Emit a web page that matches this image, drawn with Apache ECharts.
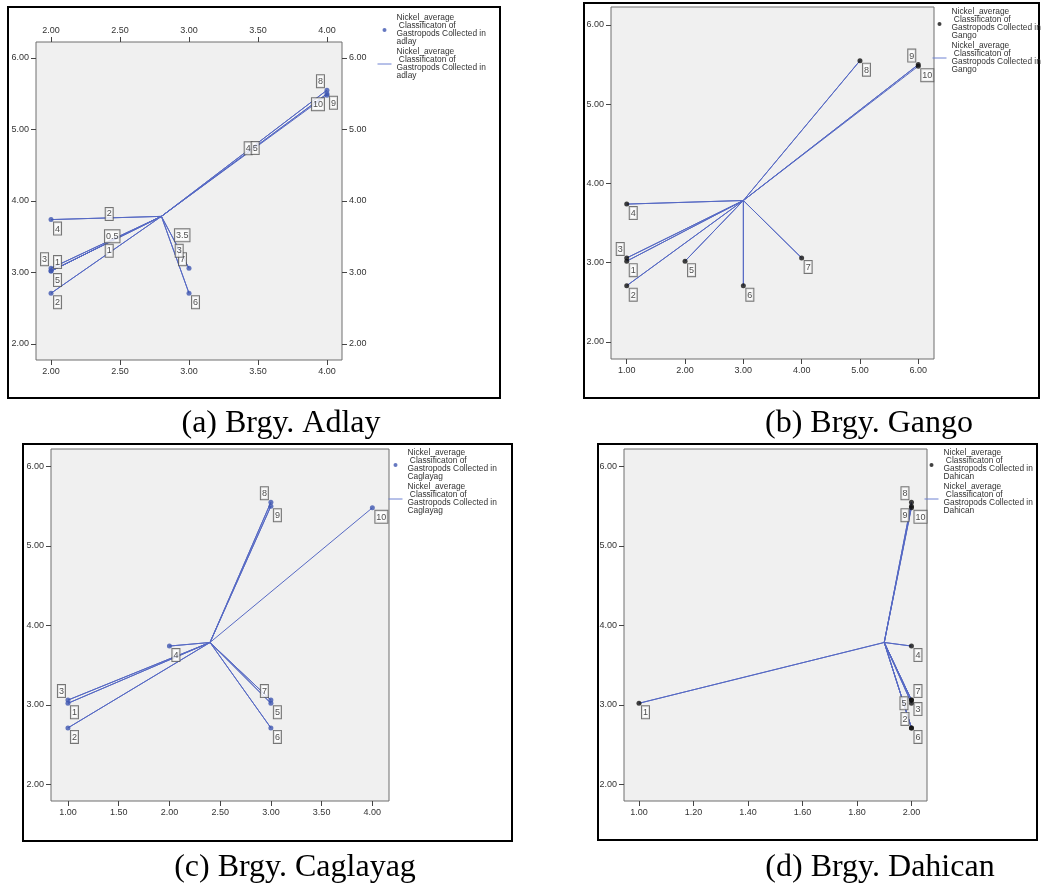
<!DOCTYPE html>
<html>
<head>
<meta charset="utf-8">
<script src="https://cdn.jsdelivr.net/npm/echarts@6/dist/echarts.min.js"></script>
<style>
    html, body { margin: 0; padding: 0; background: #fff; }
    #chart { width: 1043px; height: 884px; }
</style>
</head>
<body>
<div id="chart"></div>
<script>
// sample numbers and their Nickel average (same in all four barangays)
var sampleIds = ['1', '2', '3', '4', '5', '6', '7', '8', '9', '10'];
var nickelAverage = [3.02, 2.71, 3.06, 3.74, 3.02, 2.71, 3.06, 5.55, 5.50, 5.48];

// classification of gastropods per sample
var adlayClass    = [2, 2, 2, 2, 2, 3, 3, 4, 4, 4];
var gangoClass    = [1, 1, 1, 1, 2, 3, 4, 5, 6, 6];
var caglayagClass = [1, 1, 1, 2, 3, 3, 3, 3, 3, 4];
var dahicanClass  = [1, 2, 2, 2, 2, 2, 2, 2, 2, 2];

// stray labels sitting on the spokes of the Adlay chart, and the sample each spoke goes to
var adlaySpokeText = ['2', '0.5', '1', '3.5', '3', '4', '5'];
var adlaySpokeTo   = [4, 3, 2, 7, 6, 8, 9];

// tick labels
var yTicks        = [2, 3, 4, 5, 6];
var adlayTicks    = [2, 2.5, 3, 3.5, 4];
var gangoTicks    = [1, 2, 3, 4, 5, 6];
var caglayagTicks = [1, 1.5, 2, 2.5, 3, 3.5, 4];
var dahicanTicks  = [1, 1.2, 1.4, 1.6, 1.8, 2];

var legendPlaces = ['adlay', 'Gango', 'Caglayag', 'Dahican'];
var captions = ['(a) Brgy. Adlay', '(b) Brgy. Gango', '(c) Brgy. Caglayag', '(d) Brgy. Dahican'];

// where each point label sits (tl = top left, br = bottom right ...)
var labelPlace = {
    tl: { align: 'right', verticalAlign: 'bottom', offset: [-3, -3] },
    tr: { align: 'left', verticalAlign: 'bottom', offset: [3, -3] },
    br: { align: 'left', verticalAlign: 'top', offset: [3, 3] },
    bl: { align: 'right', verticalAlign: 'top', offset: [-3, 3] },
    l:  { align: 'right', verticalAlign: 'middle', offset: [-4, 0] }
};

var panels = [
    { cls: adlayClass, ticks: adlayTicks, xr: [1.891, 4.109],
      grid: { left: 36, top: 42, width: 306, height: 318 },
      box: [8, 7, 492, 391], legend: { left: 377, top: 14 }, dot: '#3f56b0', cap: [281, 424],
      places: ['tr', 'br', 'tl', 'br', 'br', 'br', 'tl', 'tl', 'br', 'bl'], mirror: true },
    { cls: gangoClass, ticks: gangoTicks, xr: [0.73, 6.27],
      grid: { left: 611, top: 7, width: 323, height: 352 },
      box: [584, 3, 455, 395], legend: { left: 932, top: 8 }, dot: '#111', cap: [869, 424],
      places: ['br', 'br', 'tl', 'br', 'br', 'br', 'br', 'br', 'tl', 'br'] },
    { cls: caglayagClass, ticks: caglayagTicks, xr: [0.833, 4.164],
      grid: { left: 51, top: 449, width: 338, height: 352 },
      box: [23, 444, 489, 397], legend: { left: 388, top: 449 }, dot: '#3f56b0', cap: [295, 868],
      places: ['br', 'br', 'tl', 'br', 'br', 'br', 'tl', 'tl', 'br', 'br'] },
    { cls: dahicanClass, ticks: dahicanTicks, xr: [0.945, 2.057],
      grid: { left: 624, top: 449, width: 303, height: 352 },
      box: [598, 444, 439, 396], legend: { left: 924, top: 449 }, dot: '#111', cap: [880, 868],
      places: ['br', 'tl', 'br', 'br', 'l', 'br', 'tr', 'tl', 'bl', 'br'] }
];

var yRanges = [[1.776, 6.224], [1.785, 6.227], [1.79, 6.22], [1.79, 6.22]];

var chart = echarts.init(document.getElementById('chart'));

var spokeColor = '#5669c4';
var fmt = function (v) { return v.toFixed(2); };
var boxLabel = {
    show: true,
    position: 'inside',
    fontSize: 9,
    lineHeight: 11,
    color: '#222',
    fontFamily: 'Liberation Sans',
    backgroundColor: '#fff',
    borderColor: '#555',
    borderWidth: 1,
    padding: [1, 1, 0, 1]
};

function makeAxis(gridIndex, range, ticks, position) {
    return {
        type: 'value',
        gridIndex: gridIndex,
        position: position,
        min: range[0],
        max: range[1],
        axisLine: { show: false },
        splitLine: { show: false },
        axisTick: { show: true, length: 5, customValues: ticks, lineStyle: { color: '#444' } },
        axisLabel: { customValues: ticks, formatter: fmt, fontSize: 9, color: '#333',
                     margin: 7, fontFamily: 'Liberation Sans' }
    };
}

var grids = [], xAxes = [], yAxes = [], series = [], legends = [], graphics = [];

panels.forEach(function (p, i) {
    grids.push(Object.assign({ show: true, backgroundColor: '#f0f0f0', borderColor: '#6f6f6f', borderWidth: 1 }, p.grid));
    var xi = xAxes.length, yi = yAxes.length;
    xAxes.push(makeAxis(i, p.xr, p.ticks, 'bottom'));
    yAxes.push(makeAxis(i, yRanges[i], yTicks, 'left'));
    if (p.mirror) {
        xAxes.push(makeAxis(i, p.xr, p.ticks, 'top'));
        yAxes.push(makeAxis(i, yRanges[i], yTicks, 'right'));
    }

    var name = 'Nickel_average\n Classificaton of\nGastropods Collected in\n' + legendPlaces[i];
    var lineName = name + ' ';

    // centroid = mean of the points
    var cx = 0, cy = 0;
    p.cls.forEach(function (v, k) { cx += v; cy += nickelAverage[k]; });
    cx /= p.cls.length; cy /= p.cls.length;

    var spokes = [];
    p.cls.forEach(function (v, k) {
        spokes.push([cx, cy]);
        spokes.push([v, nickelAverage[k]]);
    });

    series.push({
        name: lineName, type: 'line', xAxisIndex: xi, yAxisIndex: yi,
        data: spokes, symbol: 'none', z: 2,
        lineStyle: { color: spokeColor, width: 1 }, itemStyle: { color: spokeColor }
    });

    series.push({
        name: name, type: 'scatter', xAxisIndex: xi, yAxisIndex: yi, z: 3,
        symbolSize: 5, itemStyle: { color: p.dot },
        label: Object.assign({ formatter: function (d) { return sampleIds[d.dataIndex]; } }, boxLabel),
        data: p.cls.map(function (v, k) {
            return { value: [v, nickelAverage[k]], label: labelPlace[p.places[k]] };
        })
    });

    if (p.mirror) {
        var spokeOffsets = [[3, -4], [6, -6], [3, -4], [7, -7], [4, -4], [4, -5], [11, -7]];
        series.push({
            type: 'scatter', xAxisIndex: xi, yAxisIndex: yi, z: 4,
            symbolSize: 1, itemStyle: { color: 'transparent' },
            label: Object.assign({ formatter: function (d) { return adlaySpokeText[d.dataIndex]; },
                                   align: 'center', verticalAlign: 'middle' }, boxLabel),
            data: adlaySpokeTo.map(function (s, k) {
                var j = s - 1;
                return { value: [(cx + p.cls[j]) / 2, (cy + nickelAverage[j]) / 2],
                         label: { offset: spokeOffsets[k] } };
            })
        });
    }

    legends.push({
        data: [
            { name: name },
            { name: lineName, itemStyle: { color: 'rgba(0,0,0,0)', borderWidth: 0 },
              lineStyle: { color: '#6f82d2', width: 1 } }
        ],
        orient: 'vertical',
        left: p.legend.left, top: p.legend.top,
        padding: 0, itemGap: 2, itemWidth: 14, itemHeight: 4,
        selectedMode: false,
        textStyle: { fontSize: 8.4, lineHeight: 8, color: '#333', fontFamily: 'Liberation Sans' }
    });

    graphics.push({
        type: 'rect', silent: true, z: 0,
        shape: { x: p.box[0], y: p.box[1], width: p.box[2], height: p.box[3] },
        style: { fill: 'none', stroke: '#000', lineWidth: 2 }
    });
    graphics.push({
        type: 'text', silent: true, x: p.cap[0], y: p.cap[1],
        style: { text: captions[i], fontSize: 32, fontFamily: 'Liberation Serif', fill: '#000',
                 align: 'center', verticalAlign: 'middle' }
    });
});

chart.setOption({
    animation: false,
    grid: grids,
    xAxis: xAxes,
    yAxis: yAxes,
    legend: legends,
    graphic: graphics,
    series: series
});
</script>
</body>
</html>
